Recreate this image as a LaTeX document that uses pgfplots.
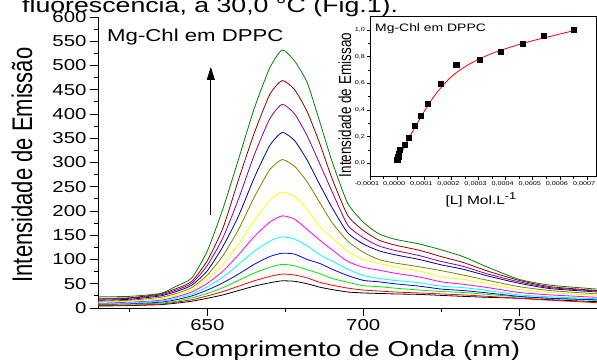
\documentclass[border=0pt]{standalone}
\usepackage{graphicx}
\usepackage{fontspec}
\setmainfont{Liberation Sans}[FakeStretch=1.29]
\newfontfamily\rotfont{Liberation Sans}
\usepackage{pgfplots}
\usepackage{pgfplotstable}
\pgfplotsset{compat=1.18}
\usetikzlibrary{arrows.meta}

\definecolor{cK}{RGB}{0,0,0}
\definecolor{cR}{RGB}{255,0,0}
\definecolor{cG}{RGB}{0,235,0}
\definecolor{cB}{RGB}{0,0,255}
\definecolor{cC}{RGB}{0,255,255}
\definecolor{cM}{RGB}{255,0,255}
\definecolor{cY}{RGB}{255,255,0}
\definecolor{cO}{RGB}{128,128,0}
\definecolor{cN}{RGB}{0,0,150}
\definecolor{cP}{RGB}{140,0,140}
\definecolor{cW}{RGB}{140,0,0}
\definecolor{cT}{RGB}{0,128,0}

\pgfplotstableread{
wl  k  r  g  b  c  m  y  o  n  p  w  t
615 4  5  7  8  9  10 12 14 16 18 20 23
625 5  6  8  9  10 12 14 16 18 20 21 24
635 7  8  10 12 14 16 19 22 25 27 29 30
640 10 12 14 17 20 23 26 30 34 37 40 45
645 14 17 21 25 29 33 37 42 47 51 55 62
650 20 25 30 37 44 51 59 68 77 88 98 118
655 27 34 42 52 64 76 90 108 127 145 165 205
660 36 45 57 70 90 110 132 162 190 225 265 307
665 45 56 72 90 117 147 180 228 268 315 360 411
670 52 65 84 106 138 177 222 285 335 390 440 495
674 56 70 90 113 147 190 239 306 362 420 469 532
678 55 68 87 111 142 183 230 292 345 400 450 509
682 50 62 79 100 128 162 203 260 305 355 405 465
686 43 53 71 92 110 140 168 218 255 298 340 385
690 38 47 61 80 97 120 145 176 207 240 267 302
695 33 41 53 67 80 96 117 138 155 171 191 216
700 31 37 46 57 67 84 100 115 132 145 160 177
705 30 35 44 54 61 78 92 100 118 128 140 153
710 29 33 41 50 57 72 85 93 110 119 130 142
718 28 31 37 45 52 64 76 85 100 108 119 132
725 26 29 34 39 45 54 64 77 89 96 106 120
732 24 27 32 36 42 49 59 68 80 86 94 106
740 22 24 28 31 36 42 50 57 66 70 76 84
750 20 20 23 24 27 32 38 44 51 54 57 59
760 17 16 20 20 23 27 32 36 40 42 44 47
775 13 11 16 17 19 22 26 29 33 35 36 39
}\maintab

\pgfplotstableread{
x        y
0        0.03
0.000004 0.05
0.000006 0.075
0.00001  0.10
0.000027 0.1425
0.000043 0.19
0.000065 0.28
0.000086 0.355
0.000114 0.45
0.00016  0.595
0.000218 0.74
0.000303 0.78
0.000382 0.84
0.000463 0.90
0.000541 0.96
0.000652 1.00
}\insetpts

\pgfplotstableread{
x        y
0        0.012
0.00002  0.095
0.00004  0.175
0.00006  0.25
0.00008  0.32
0.0001   0.39
0.00012  0.455
0.00015  0.54
0.0002   0.65
0.00025  0.725
0.0003   0.78
0.00035  0.825
0.0004   0.86
0.00045  0.892
0.0005   0.92
0.00055  0.945
0.0006   0.97
0.00066  1.0
}\insetfit

\begin{document}
\begin{tikzpicture}
\useasboundingbox (0,0) rectangle (597bp,360bp);

\node[anchor=base west, inner sep=0] at (22bp,347.8bp) {\fontsize{20.7bp}{24bp}\selectfont fluorescência, a 30,0 °C (Fig.1).};

\begin{axis}[
  at={(98bp,52bp)}, anchor=south west,
  scale only axis, width=499bp, height=291bp,
  xmin=614.9, xmax=775, ymin=0, ymax=600,
  axis lines*=left,
  axis line style={line width=0.8bp, -},
  tick pos=left,
  xtick={650,700,750}, minor xtick={625,675,725,775},
  ytick={0,50,...,600}, minor ytick={25,75,...,575},
  tick align=outside,
  major tick length=8bp, minor tick length=4bp,
  every tick/.style={black, line width=0.8bp},
  tick label style={font=\fontsize{15.8bp}{18bp}\selectfont},
  /pgf/number format/assume math mode=true,
  /pgf/number format/1000 sep={},
  clip=true,
  every axis plot/.append style={line width=0.8bp, smooth, tension=0.35},
]
\addplot[cK] table[x=wl,y=k] {\maintab};
\addplot[cR] table[x=wl,y=r] {\maintab};
\addplot[cG] table[x=wl,y=g] {\maintab};
\addplot[cB] table[x=wl,y=b] {\maintab};
\addplot[cC] table[x=wl,y=c] {\maintab};
\addplot[cM] table[x=wl,y=m] {\maintab};
\addplot[cY] table[x=wl,y=y] {\maintab};
\addplot[cO] table[x=wl,y=o] {\maintab};
\addplot[cN] table[x=wl,y=n] {\maintab};
\addplot[cP] table[x=wl,y=p] {\maintab};
\addplot[cW] table[x=wl,y=w] {\maintab};
\addplot[cT] table[x=wl,y=t] {\maintab};
\draw[-{Triangle[length=13bp,width=8bp]}, line width=0.8bp] (axis cs:651.1,192) -- (axis cs:651.1,497);
\end{axis}

\node[anchor=base west, inner sep=0] at (107bp,318.3bp) {\fontsize{17.2bp}{20bp}\selectfont Mg-Chl em DPPC};

\begin{axis}[
  at={(370bp,183.3bp)}, anchor=south west,
  scale only axis, width=226bp, height=160bp,
  xmin=-0.0001, xmax=0.000733, ymin=-0.1, ymax=1.1,
  axis background/.style={fill=white},
  axis line style={line width=0.8bp},
  tick pos=left,
  scaled x ticks=false,
  xtick={-0.0001,0,0.0001,0.0002,0.0003,0.0004,0.0005,0.0006,0.0007},
  xticklabels={{-0,0001},{0,0000},{0,0001},{0,0002},{0,0003},{0,0004},{0,0005},{0,0006},{0,0007}},
  ytick={0,0.2,0.4,0.6,0.8,1.0},
  yticklabels={{0,0},{0,2},{0,4},{0,6},{0,8},{1,0}},
  minor x tick num=1, minor y tick num=1,
  tick align=outside,
  major tick length=3.5bp, minor tick length=2bp,
  every tick/.style={black, line width=0.6bp},
  tick label style={font=\fontsize{5.6bp}{7bp}\selectfont, inner sep=1.5bp},
  x tick label style={xshift=-3bp},
  /pgf/number format/assume math mode=true,
]
\addplot[red, line width=0.8bp, smooth] table[x=x,y=y] {\insetfit};
\addplot[only marks, mark=square*, mark size=2.6bp, black] table[x=x,y=y] {\insetpts};
\end{axis}

\node[anchor=base west, inner sep=0] at (375bp,328.3bp) {\fontsize{10.8bp}{12bp}\selectfont Mg-Chl em DPPC};
\node[rotate=90] at (345bp,255bp) {\rotfont\fontsize{13.5bp}{15bp}\selectfont\scalebox{1}[1.29]{Intensidade de Emissao}};
\node[anchor=base] at (481bp,155bp) {\fontsize{12bp}{14bp}\selectfont [L] Mol.L\raisebox{5bp}{\fontsize{10bp}{12bp}\selectfont -1}};

\node[rotate=90] at (22bp,195bp) {\rotfont\fontsize{22bp}{26bp}\selectfont\scalebox{1}[1.29]{Intensidade de Emissão}};
\node[anchor=base] at (347.5bp,3.3bp) {\fontsize{21.5bp}{25bp}\selectfont Comprimento de Onda (nm)};
\end{tikzpicture}
\end{document}
